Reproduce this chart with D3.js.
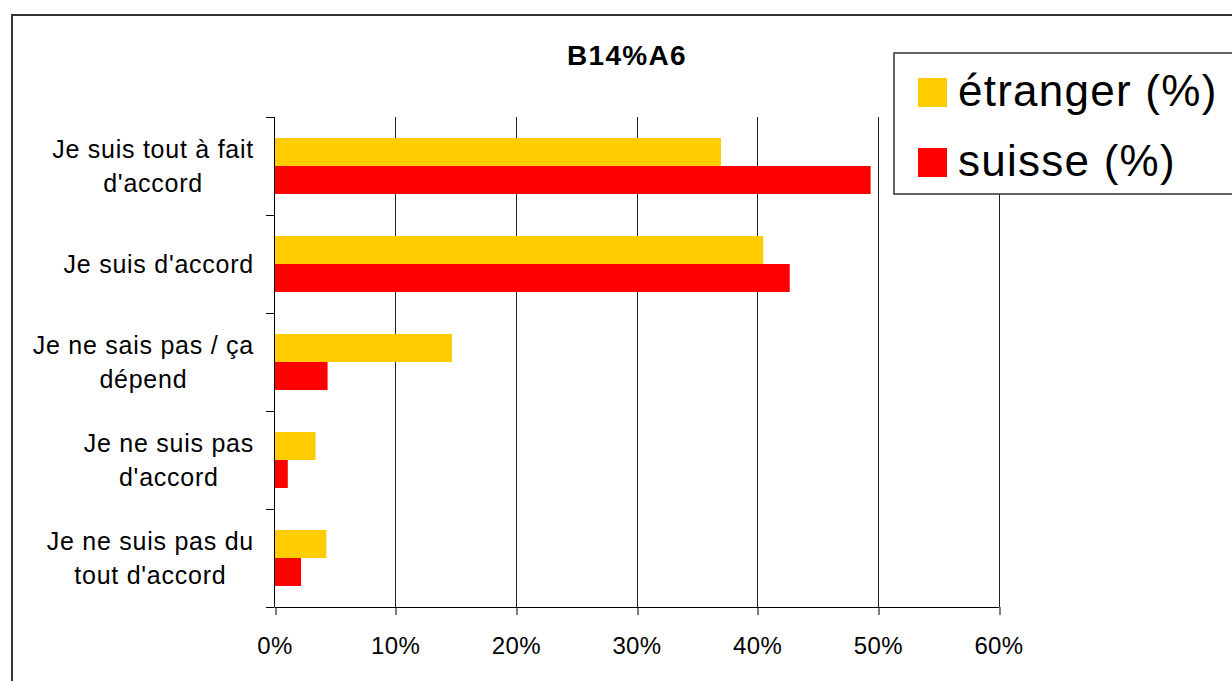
<!DOCTYPE html>
<html>
<head>
<meta charset="utf-8">
<script src="https://cdn.jsdelivr.net/npm/d3@7"></script>
<style>
  html, body { margin: 0; padding: 0; background: #fff; }
  svg { display: block; }
  text { font-family: "Liberation Sans", Arial, sans-serif; fill: #000; }
</style>
</head>
<body>
<script>
// Survey answers (top to bottom) and share of respondents per group
const categories = [
  ["Je suis tout à fait", "d'accord"],
  ["Je suis d'accord"],
  ["Je ne sais pas / ça", "dépend"],
  ["Je ne suis pas", "d'accord"],
  ["Je ne suis pas du", "tout d'accord"]
];
const seriesNames = ["étranger (%)", "suisse (%)"];
const etranger = [0.370, 0.405, 0.147, 0.034, 0.043];
const suisse   = [0.494, 0.427, 0.044, 0.011, 0.022];
const xTicks = [0, 0.1, 0.2, 0.3, 0.4, 0.5, 0.6];
const title = "B14%A6";

const W = 1232, H = 681;
const colors = ["#FFCC00", "#FF0000"];
const values = [etranger, suisse];

const svg = d3.select("body").append("svg").attr("width", W).attr("height", H);

// outer chart frame (runs off the right and bottom edges)
svg.append("rect")
  .attr("x", 12).attr("y", 15).attr("width", W + 20).attr("height", H + 20)
  .attr("fill", "#fff").attr("stroke", "#333").attr("stroke-width", 2);

const catKeys = categories.map(c => c.join(" "));
const x = d3.scaleLinear().domain([0, 0.6]).range([274.5, 998.5]);
const y = d3.scaleBand().domain(catKeys).range([117, 607]).padding(0);
const ys = d3.scaleBand().domain(seriesNames).range([0, y.bandwidth()])
  .paddingInner(0).paddingOuter(0.75);

// vertical gridlines
svg.append("g").selectAll("line")
  .data(xTicks.filter(d => d > 0))
  .join("line")
  .attr("x1", d => Math.round(x(d)) + 0.5).attr("x2", d => Math.round(x(d)) + 0.5)
  .attr("y1", 117).attr("y2", 607)
  .attr("stroke", "#222").attr("stroke-width", 1);

// bars
const groups = svg.append("g").selectAll("g")
  .data(catKeys)
  .join("g")
  .attr("transform", d => `translate(0,${y(d)})`);

groups.selectAll("rect")
  .data((d, i) => seriesNames.map((s, j) => ({ s, v: values[j][i], j })))
  .join("rect")
  .attr("x", x(0))
  .attr("y", d => ys(d.s))
  .attr("width", d => x(d.v) - x(0))
  .attr("height", ys.bandwidth())
  .attr("fill", d => colors[d.j]);

// x axis
const xAxis = d3.axisBottom(x)
  .tickValues(xTicks)
  .tickFormat(d3.format(".0%"))
  .tickSize(8).tickSizeOuter(0).tickPadding(22);
const gx = svg.append("g").attr("transform", "translate(0,607)").call(xAxis);
gx.select(".domain").attr("stroke", "#000");
gx.selectAll(".tick line").attr("stroke", "#000")
  .attr("transform", d => `translate(${Math.round(x(d)) + 0.5 - x(d)},0)`);
gx.selectAll(".tick text")
  .style("font-family", "'Liberation Sans', Arial, sans-serif")
  .style("font-size", "24px").style("letter-spacing", "0.4px").attr("fill", "#000");

// y axis line and category boundary ticks
svg.append("line")
  .attr("x1", 274.5).attr("x2", 274.5).attr("y1", 117).attr("y2", 607)
  .attr("stroke", "#000");
const bounds = d3.range(catKeys.length + 1).map(i => y.range()[0] + i * y.step());
svg.append("g").selectAll("line")
  .data(bounds)
  .join("line")
  .attr("x1", 266).attr("x2", 274.5)
  .attr("y1", d => Math.round(d) + 0.5).attr("y2", d => Math.round(d) + 0.5)
  .attr("stroke", "#000");

// category labels: lines centred on each other, block right-aligned
const labelSize = 25, lineGap = 34, labelRight = 254;
categories.forEach((lines, i) => {
  const cy = y(catKeys[i]) + y.bandwidth() / 2;
  const g = svg.append("g");
  const texts = lines.map((t, k) => g.append("text")
    .attr("font-size", labelSize)
    .style("letter-spacing", "0.75px")
    .attr("text-anchor", "middle")
    .attr("y", cy + 9 + (k - (lines.length - 1) / 2) * lineGap)
    .text(t));
  const maxW = d3.max(texts, t => t.node().getComputedTextLength());
  texts.forEach(t => t.attr("x", labelRight - maxW / 2));
});

// title
svg.append("text")
  .attr("x", 627).attr("y", 65)
  .attr("text-anchor", "middle")
  .attr("font-size", 28).attr("font-weight", "bold")
  .style("letter-spacing", "1.3px")
  .text(title);

// legend (box runs past the right edge)
const lg = svg.append("g");
lg.append("rect")
  .attr("x", 894).attr("y", 53).attr("width", 400).attr("height", 141)
  .attr("fill", "#fff").attr("stroke", "#333").attr("stroke-width", 1.5);
seriesNames.forEach((s, j) => {
  const top = 78 + j * 70;
  lg.append("rect").attr("x", 918).attr("y", top).attr("width", 29).attr("height", 29)
    .attr("fill", colors[j]);
  lg.append("text").attr("x", 958).attr("y", top + 28)
    .attr("font-size", 44).style("letter-spacing", "1.25px").text(s);
});
</script>
</body>
</html>
